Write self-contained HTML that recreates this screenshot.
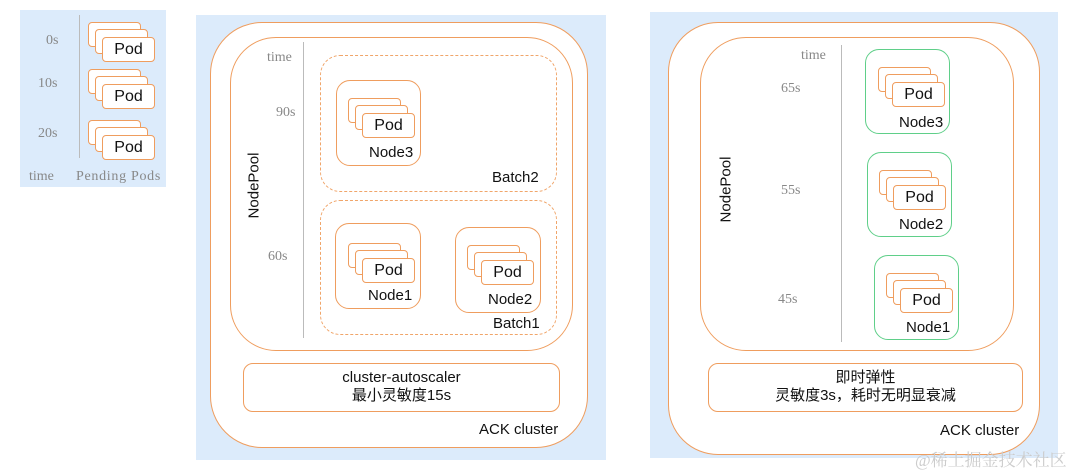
<!DOCTYPE html>
<html><head><meta charset="utf-8"><style>
body{margin:0;width:1080px;height:472px;background:#fff;position:relative;overflow:hidden;font-family:"Liberation Sans","Noto Sans CJK SC",sans-serif;}
div{box-sizing:border-box;}
.a{position:absolute;}
.bg{position:absolute;background:#dcebfb;}
.o{position:absolute;border:1.5px solid #ef9d5e;background:#fff;}
.d{position:absolute;border:1.3px dashed #f0a56a;}
.g{position:absolute;border:1.5px solid #5fcf89;background:#fff;border-radius:14px;}
.ps{position:absolute;width:70px;height:42px;}
.ps div{position:absolute;width:53px;height:25px;border:1.5px solid #ef9d5e;background:#fff;border-radius:4px;}
.ps div:nth-child(1){left:0;top:0}
.ps div:nth-child(2){left:7px;top:7px}
.ps div:nth-child(3){left:14px;top:15px;font-size:16px;color:#111;text-align:center;line-height:23px}
.t{position:absolute;font-family:"Liberation Serif","Noto Serif CJK SC",serif;color:#888;font-size:14px;}
.l{position:absolute;font-size:15px;color:#111;}
.ax{position:absolute;width:1px;background:#bbb;}
</style></head><body>

<!-- Panel 1 -->
<div class="bg" style="left:20px;top:10px;width:146px;height:177px"></div>
<div class="ax" style="left:79px;top:15px;height:143px"></div>
<div class="t" style="left:46px;top:33px">0s</div>
<div class="t" style="left:38px;top:76px">10s</div>
<div class="t" style="left:38px;top:126px">20s</div>
<div class="t" style="left:29px;top:169px">time</div>
<div class="t" style="left:76px;top:169px;letter-spacing:0.7px">Pending Pods</div>
<div class="ps" style="left:88px;top:22px"><div></div><div></div><div>Pod</div></div>
<div class="ps" style="left:88px;top:69px"><div></div><div></div><div>Pod</div></div>
<div class="ps" style="left:88px;top:120px"><div></div><div></div><div>Pod</div></div>

<!-- Panel 2 -->
<div class="bg" style="left:196px;top:15px;width:410px;height:445px"></div>
<div class="o" style="left:210px;top:22px;width:378px;height:426px;border-radius:52px"></div>
<div class="o" style="left:230px;top:37px;width:343px;height:314px;border-radius:46px"></div>
<div class="ax" style="left:303px;top:42px;height:296px"></div>
<div class="t" style="left:267px;top:50px">time</div>
<div class="t" style="left:276px;top:105px">90s</div>
<div class="t" style="left:268px;top:249px">60s</div>
<div class="l" style="left:219px;top:177px;transform:rotate(-90deg);width:70px;text-align:center">NodePool</div>
<div class="d" style="left:320px;top:55px;width:237px;height:137px;border-radius:20px"></div>
<div class="d" style="left:320px;top:200px;width:237px;height:135px;border-radius:20px"></div>
<div class="o" style="left:336px;top:80px;width:85px;height:86px;border-radius:14px"></div>
<div class="ps" style="left:348px;top:98px"><div></div><div></div><div>Pod</div></div>
<div class="l" style="left:369px;top:144px">Node3</div>
<div class="l" style="left:492px;top:169px">Batch2</div>
<div class="o" style="left:335px;top:223px;width:86px;height:86px;border-radius:14px"></div>
<div class="ps" style="left:348px;top:243px"><div></div><div></div><div>Pod</div></div>
<div class="l" style="left:368px;top:287px">Node1</div>
<div class="o" style="left:455px;top:227px;width:86px;height:86px;border-radius:14px"></div>
<div class="ps" style="left:467px;top:245px"><div></div><div></div><div>Pod</div></div>
<div class="l" style="left:488px;top:291px">Node2</div>
<div class="l" style="left:493px;top:315px">Batch1</div>
<div class="o" style="left:243px;top:363px;width:317px;height:49px;border-radius:10px"></div>
<div class="l" style="left:243px;top:369px;width:317px;text-align:center;line-height:18px">cluster-autoscaler<br>最小灵敏度15s</div>
<div class="l" style="left:479px;top:421px">ACK cluster</div>

<!-- Panel 3 -->
<div class="bg" style="left:650px;top:12px;width:408px;height:446px"></div>
<div class="o" style="left:668px;top:22px;width:372px;height:433px;border-radius:50px"></div>
<div class="o" style="left:700px;top:37px;width:314px;height:314px;border-radius:46px"></div>
<div class="ax" style="left:841px;top:45px;height:297px"></div>
<div class="t" style="left:801px;top:48px">time</div>
<div class="t" style="left:781px;top:81px">65s</div>
<div class="t" style="left:781px;top:183px">55s</div>
<div class="t" style="left:778px;top:292px">45s</div>
<div class="l" style="left:691px;top:181px;transform:rotate(-90deg);width:70px;text-align:center">NodePool</div>
<div class="g" style="left:865px;top:49px;width:85px;height:85px"></div>
<div class="ps" style="left:878px;top:67px"><div></div><div></div><div>Pod</div></div>
<div class="l" style="left:899px;top:114px">Node3</div>
<div class="g" style="left:867px;top:152px;width:85px;height:85px"></div>
<div class="ps" style="left:879px;top:170px"><div></div><div></div><div>Pod</div></div>
<div class="l" style="left:899px;top:216px">Node2</div>
<div class="g" style="left:874px;top:255px;width:85px;height:85px"></div>
<div class="ps" style="left:886px;top:273px"><div></div><div></div><div>Pod</div></div>
<div class="l" style="left:906px;top:319px">Node1</div>
<div class="o" style="left:708px;top:363px;width:315px;height:49px;border-radius:10px"></div>
<div class="l" style="left:708px;top:369px;width:315px;text-align:center;line-height:18px">即时弹性<br>灵敏度3s，耗时无明显衰减</div>
<div class="l" style="left:940px;top:422px">ACK cluster</div>
<div class="a" style="left:915px;top:446px;font-size:17px;color:#ccc;font-family:'Liberation Serif','Noto Serif CJK SC',serif">@稀土掘金技术社区</div>
</body></html>
